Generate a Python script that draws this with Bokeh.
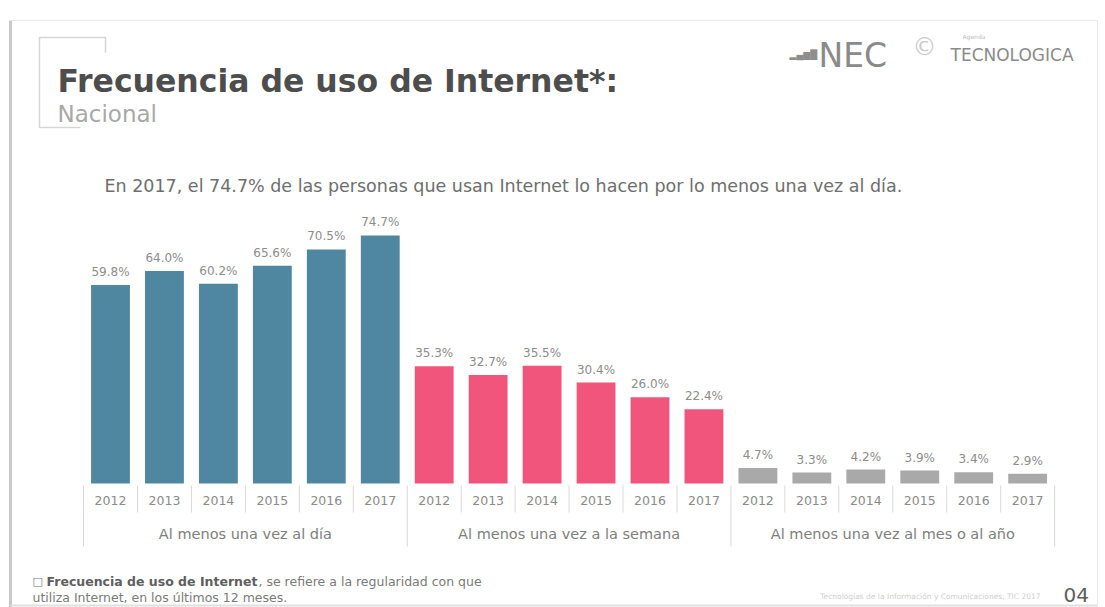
from bokeh.plotting import figure
from bokeh.models import Range1d, ColumnDataSource
from bokeh.core.properties import value
from bokeh.embed import file_html
from bokeh.resources import INLINE

# ---------------- data ----------------
years = ["2012", "2013", "2014", "2015", "2016", "2017"]
groups = ["Al menos una vez al día",
          "Al menos una vez a la semana",
          "Al menos una vez al mes o al año"]
diario = [59.8, 64.0, 60.2, 65.6, 70.5, 74.7]
semanal = [35.3, 32.7, 35.5, 30.4, 26.0, 22.4]
mensual = [4.7, 3.3, 4.2, 3.9, 3.4, 2.9]
group_colors = ["#4f86a0", "#f2557b", "#a9a9a9"]

title_text = "Frecuencia de uso de Internet*:"
subtitle_text = "Nacional"
lead_text = "En 2017, el 74.7% de las personas que usan Internet lo hacen por lo menos una vez al día."
note_bold = "Frecuencia de uso de Internet"
note_rest = ", se refiere a la regularidad con que"
note_line2 = "utiliza Internet, en los últimos 12 meses."
footer_text = "Tecnologías de la Información y Comunicaciones, TIC 2017"
page_no = "04"

# ---------------- layout constants ----------------
W, H = 1105, 607
BASE = 483      # baseline pixel row
PXU = 3.32      # pixels per percentage point
X0 = 110        # centre of first bar (px)
STEP = 53.95    # px between bars
FONT = value("DejaVu Sans")

series = [diario, semanal, mensual]
n = len(years)
xs, tops, cols, labs, yrs = [], [], [], [], []
for g, vals in enumerate(series):
    for j, v in enumerate(vals):
        xs.append(g * n + j)
        tops.append(v)
        cols.append(group_colors[g])
        labs.append(f"{v:.1f}%")
        yrs.append(years[j])
src = ColumnDataSource(dict(x=xs, top=tops, color=cols, label=labs, year=yrs))

p = figure(width=W, height=H,
           x_range=Range1d(-X0 / STEP, (W - X0) / STEP),
           y_range=Range1d(-(H - BASE) / PXU, BASE / PXU),
           x_axis_type=None, y_axis_type=None,
           toolbar_location=None, output_backend="svg", min_border=0)
p.title = None
p.outline_line_color = None
p.background_fill_color = "white"
p.border_fill_color = "white"
p.extra_x_ranges = {"px": Range1d(0, W)}
p.extra_y_ranges = {"px": Range1d(H, 0)}

# ---------------- page frame ----------------
p.multi_line(xs=[[10, 10], [10, 1097], [1097, 1097], [10, 1097]],
             ys=[[20, 607], [20, 20], [20, 605], [605, 605]],
             line_color=["#c9c9c9", "#e8e8e8", "#ececec", "#e0e0e0"],
             line_width=[3, 1, 1, 2],
             x_range_name="px", y_range_name="px")

# title bracket
p.line(x=[105, 105, 39, 39, 80], y=[52, 37, 37, 127, 127],
       line_color="#d6d6d6", line_width=1.5, x_range_name="px", y_range_name="px")

p.text(x=[57], y=[80], text=[title_text], text_font=FONT, text_font_style="bold",
       text_font_size="31.5px", text_color="#4d4d4d", text_baseline="alphabetic",
       x_range_name="px", y_range_name="px")
p.text(x=[57], y=[113], text=[subtitle_text], text_font=FONT,
       text_font_size="23px", text_color="#a8a8a8", text_baseline="alphabetic",
       x_range_name="px", y_range_name="px")

# logo
p.text(x=[789], y=[54], text=["▂▄▆█"], text_font=FONT, text_font_size="9px",
       text_color="#8e8e8e", text_baseline="alphabetic",
       x_range_name="px", y_range_name="px")
p.text(x=[818], y=[55], text=["NEC"], text_font=FONT, text_font_size="33px",
       text_color="#8a8a8a", text_baseline="alphabetic",
       x_range_name="px", y_range_name="px")
p.text(x=[912], y=[46], text=["©"], text_font=FONT, text_font_size="24px",
       text_color="#cccccc", text_baseline="middle",
       x_range_name="px", y_range_name="px")
p.text(x=[962], y=[36], text=["Agenda"], text_font=FONT, text_font_size="6px",
       text_color="#bbbbbb", text_baseline="middle",
       x_range_name="px", y_range_name="px")
p.text(x=[950], y=[54], text=["TECNOLOGICA"], text_font=FONT,
       text_font_size="17px", text_color="#8a8a8a", text_baseline="alphabetic",
       x_range_name="px", y_range_name="px")

# lead sentence
p.text(x=[104], y=[185], text=[lead_text], text_font=FONT, text_font_size="17.5px",
       text_color="#6e6e6e", text_baseline="middle",
       x_range_name="px", y_range_name="px")

# ---------------- bars ----------------
p.vbar(x="x", top="top", bottom=0, width=0.72, fill_color="color",
       line_color=None, source=src)
p.text(x="x", y="top", text="label", source=src, text_align="center",
       text_baseline="bottom", y_offset=-6, text_font=FONT,
       text_font_size="12px", text_color="#8c8c8c")

# ---------------- category axis (drawn) ----------------
year_y = [500] * len(xs)
p.text(x=xs, y=year_y, text=yrs, text_align="center", text_baseline="middle",
       text_font=FONT, text_font_size="12.5px", text_color="#8a8a8a",
       y_range_name="px")

sep_minor = [i + 0.5 for i in range(len(xs) - 1) if (i + 1) % n != 0]
sep_major = [g * n - 0.5 for g in range(len(groups) + 1)]
p.segment(x0=sep_minor, x1=sep_minor, y0=[485] * len(sep_minor), y1=[512] * len(sep_minor),
          line_color="#d9d9d9", line_width=1, y_range_name="px")
p.segment(x0=sep_major, x1=sep_major, y0=[485] * len(sep_major), y1=[546] * len(sep_major),
          line_color="#d9d9d9", line_width=1, y_range_name="px")

gx = [g * n + (n - 1) / 2 for g in range(len(groups))]
p.text(x=gx, y=[533] * len(groups), text=groups, text_align="center",
       text_baseline="middle", text_font=FONT, text_font_size="14.5px",
       text_color="#7e7e7e", y_range_name="px")

# ---------------- footnote / footer ----------------
p.text(x=[32], y=[581], text=["□"], text_font=FONT, text_font_size="11px",
       text_color="#777777", text_baseline="middle",
       x_range_name="px", y_range_name="px")
p.text(x=[46], y=[581], text=[note_bold], text_font=FONT, text_font_style="bold",
       text_font_size="12.5px", text_color="#5e5e5e", text_baseline="middle",
       x_range_name="px", y_range_name="px")
p.text(x=[258], y=[581], text=[note_rest], text_font=FONT,
       text_font_size="12.5px", text_color="#7a7a7a", text_baseline="middle",
       x_range_name="px", y_range_name="px")
p.text(x=[32], y=[597], text=[note_line2], text_font=FONT,
       text_font_size="12.5px", text_color="#7a7a7a", text_baseline="middle",
       x_range_name="px", y_range_name="px")
p.text(x=[1040], y=[596], text=[footer_text], text_font=FONT, text_align="right",
       text_font_size="7.5px", text_color="#cfcfcf", text_baseline="middle",
       x_range_name="px", y_range_name="px")
p.text(x=[1063], y=[594], text=[page_no], text_font=FONT,
       text_font_size="20px", text_color="#5e5e5e", text_baseline="middle",
       x_range_name="px", y_range_name="px")

open("out.html", "w").write(file_html(p, INLINE))
